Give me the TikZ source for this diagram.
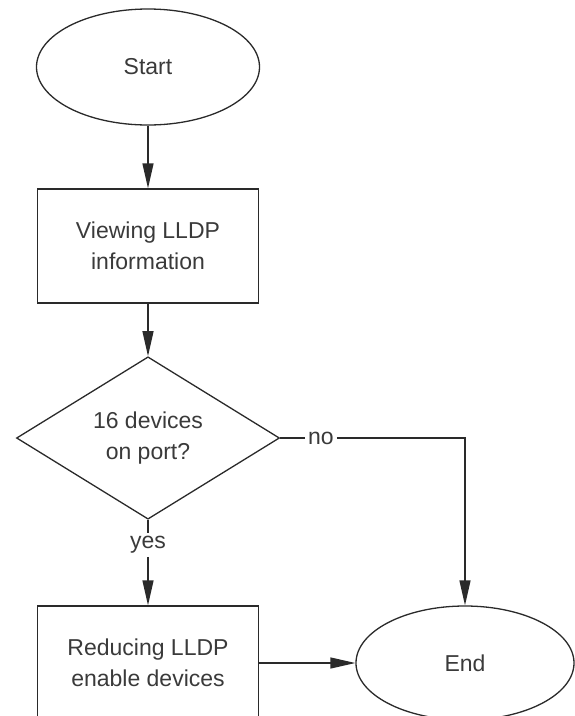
\documentclass[tikz,border=0pt]{standalone}
\usepackage{fontspec}
\setmainfont{Liberation Sans}
\usetikzlibrary{shapes.geometric,arrows.meta}
\definecolor{ln}{HTML}{2A2A2A}
\definecolor{tx}{HTML}{3A3A3A}
\begin{document}
\begin{tikzpicture}[x=1pt,y=-1pt,
  every node/.style={font=\fontsize{23}{31}\selectfont, text=tx, align=center, inner sep=0pt},
  term/.style={draw=ln, line width=1.3pt, ellipse, minimum width=223pt, minimum height=116pt},
  proc/.style={draw=ln, line width=1.3pt, rectangle, minimum width=221pt, minimum height=114pt},
  dec/.style={draw=ln, line width=1.3pt, diamond, minimum width=263pt, minimum height=153pt},
  lbl/.style={inner sep=3pt},
  conn/.style={draw=ln, line width=1.3pt},
  arr/.style={conn, -{Triangle[length=25pt,width=11pt]}}]
\useasboundingbox (0,0) rectangle (574,716);
\node[term] (start) at (148,67) {Start};
\node[proc] (view) at (148,246) {Viewing LLDP\\information};
\node[dec] (dev) at (148,438) {16 devices\\on port?};
\node[lbl] (no) at (321,438) {no};
\node[lbl] (yes) at (148,545) {yes};
\node[proc] (red) at (148,663) {Reducing LLDP\\enable devices};
\node[term, minimum width=218pt, minimum height=114pt] (end) at (465,663) {End};
\draw[arr] (start) -- (view);
\draw[arr] (view) -- (dev);
\draw[conn] (dev.east) -- (no.west);
\draw[arr] (no.east) -| (end.north);
\draw[conn] (dev.south) -- (yes.north);
\draw[arr] (yes.south) -- (red.north);
\draw[arr] (red.east) -- (end.west);
\end{tikzpicture}
\end{document}
